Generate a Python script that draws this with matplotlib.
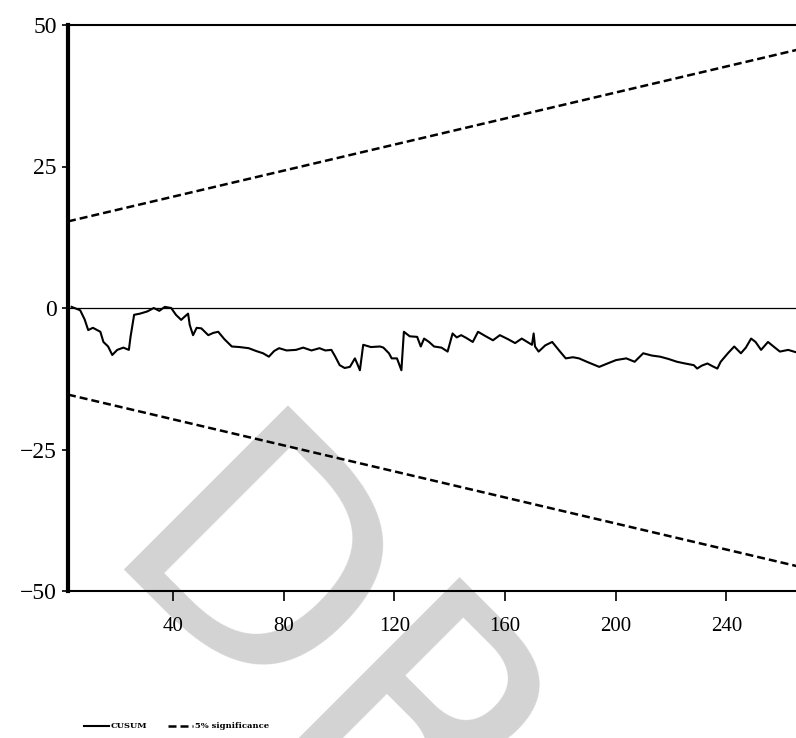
import numpy as np
import matplotlib
matplotlib.use('Agg')
import matplotlib.pyplot as plt

# CUSUM test - wartosci
cusum_x = [3.3, 6.4, 8.0, 9.3, 11.0, 13.7, 14.8, 16.5, 18.0, 19.8, 22.0, 24.0, 24.6, 25.9,
           28.0, 30.7, 33.0, 35.0, 37.0, 39.3, 41.0, 42.9, 44.0, 45.4, 46.0, 47.2, 48.5,
           50.2, 52.7, 54.5, 56.3, 58.5, 61.2, 64.0, 67.3, 70.0, 72.5, 74.6, 76.5, 78.3,
           81.0, 84.4, 87.0, 90.0, 92.9, 95.0, 97.2, 98.5, 100.2, 102.0, 103.9, 105.7,
           106.5, 107.5, 108.7, 111.5, 114.8, 116.0, 118.0, 119.0, 120.9, 122.5, 123.4,
           125.5, 128.2, 129.5, 130.7, 132.5, 134.3, 137.0, 139.2, 141.0, 142.5, 144.1,
           146.0, 148.3, 150.2, 153.0, 155.6, 158.1, 161.0, 163.6, 166.0, 168.0, 169.7,
           170.3, 170.8, 172.1, 174.5, 177.0, 179.5, 181.9, 184.5, 186.7, 190.0, 194.0,
           197.0, 200.1, 203.8, 206.8, 209.9, 213.0, 216.0, 219.0, 222.1, 225.0, 228.2,
           229.4, 231.0, 233.1, 235.0, 236.7, 237.9, 240.5, 242.8, 245.2, 247.0, 248.9,
           250.5, 252.5, 255.0, 257.0, 259.3, 262.3, 265.0, 267.8]
cusum_y = [0.2, -0.4, -2.0, -3.9, -3.5, -4.2, -6.0, -6.8, -8.3, -7.4, -7.0, -7.4, -5.1, -1.2,
           -1.0, -0.6, 0.0, -0.5, 0.2, 0.0, -1.2, -2.1, -1.6, -1.0, -3.0, -4.8, -3.5,
           -3.6, -4.8, -4.4, -4.2, -5.5, -6.8, -6.9, -7.1, -7.6, -8.0, -8.6, -7.6, -7.1,
           -7.5, -7.4, -7.0, -7.5, -7.1, -7.5, -7.4, -8.5, -10.1, -10.6, -10.4, -8.9,
           -9.8, -11.0, -6.5, -6.9, -6.8, -7.0, -8.0, -8.9, -8.9, -11.0, -4.2,
           -5.0, -5.1, -6.8, -5.4, -6.0, -6.8, -7.0, -7.7, -4.5, -5.2, -4.8,
           -5.3, -6.0, -4.2, -5.0, -5.7, -4.8, -5.5, -6.2, -5.4, -6.0, -6.5,
           -4.5, -6.8, -7.7, -6.6, -6.0, -7.5, -8.9, -8.7, -8.9, -9.6, -10.4,
           -9.8, -9.2, -8.9, -9.5, -8.0, -8.4, -8.6, -9.0, -9.5, -9.8, -10.1,
           -10.7, -10.2, -9.8, -10.3, -10.7, -9.5, -8.0, -6.8, -8.0, -7.0, -5.4,
           -6.0, -7.4, -6.0, -6.8, -7.7, -7.4, -7.8, -7.7]

# granice 5% istotnosci
bound_x = [2, 268]
bound_upper = [15.3, 45.9]
bound_lower = [-15.3, -45.9]

x_ticks = [40, 80, 120, 160, 200, 240]
y_ticks = [-50, -25, 0, 25, 50]

fig = plt.figure(figsize=(7.96, 7.38), dpi=100)
ax = fig.add_axes([68 / 796, 1 - 591 / 738, 1 - 68 / 796 + 0.01, (591 - 25) / 738])
ax.patch.set_alpha(0)

# znak wodny (pod wykresem)
fig.text(92 / 796, 1 - 569 / 738, 'DR', fontsize=228, color='#d3d3d3',
         family='DejaVu Sans', rotation=-45, rotation_mode='anchor',
         ha='left', va='baseline', zorder=-5)

ax.axhline(0, color='black', lw=0.9, zorder=2)
l1, = ax.plot(cusum_x, cusum_y, color='black', lw=1.5, zorder=3)
l2, = ax.plot(bound_x, bound_upper, color='black', lw=1.8, dashes=(3.2, 1.6), zorder=3)
ax.plot(bound_x, bound_lower, color='black', lw=1.8, dashes=(3.2, 1.6), zorder=3)

ax.set_xlim(2, 268)
ax.set_ylim(-50, 50)
ax.set_xticks(x_ticks)
ax.set_yticks(y_ticks)
ax.set_yticklabels(['\u221250', '\u221225', '0', '25', '50'])

ax.spines['right'].set_visible(False)
ax.spines['left'].set_linewidth(3)
ax.spines['bottom'].set_linewidth(1.5)
ax.spines['top'].set_linewidth(1.5)

ax.tick_params(axis='x', direction='out', length=7, width=1.2, pad=12, labelsize=15)
ax.tick_params(axis='y', direction='out', length=4, width=1.2, pad=4, labelsize=17)
for lab in ax.get_xticklabels() + ax.get_yticklabels():
    lab.set_family('Liberation Serif')

fig.legend([l1, l2], ['CUSUM', '5% significance'], loc='lower left',
           bbox_to_anchor=(76 / 796, 0.0), ncol=2, frameon=False,
           prop={'family': 'DejaVu Serif', 'weight': 'bold', 'size': 6},
           handlelength=3.0, handletextpad=0.2, columnspacing=2.6)

plt.savefig('out.png', dpi=100)
